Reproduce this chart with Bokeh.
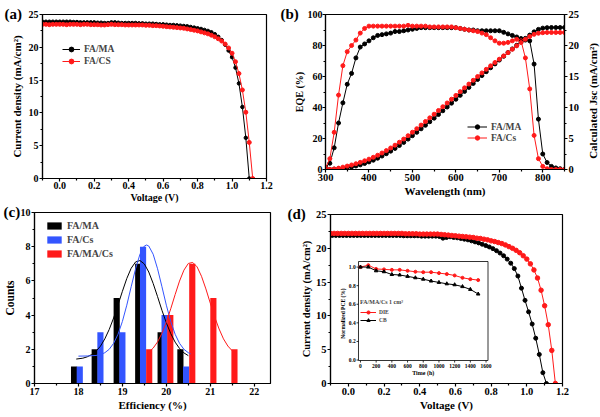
import math
from bokeh.plotting import figure
from bokeh.layouts import row, column
from bokeh.models import Range1d, LinearAxis, FixedTicker, Legend, LegendItem
from bokeh.core.properties import value
from bokeh.embed import file_html
from bokeh.resources import INLINE

SERIF = "Liberation Serif"
BLACK = "#000000"
RED = "#ff1a1a"
BLUE = "#3355ff"

# ---------------- (a) J-V : FA/MA vs FA/CS ----------------
va_ma = [-0.10, -0.08, -0.06, -0.04, -0.02, 0.00, 0.02, 0.04, 0.06, 0.08, 0.10, 0.12, 0.14, 0.16, 0.18,
         0.20, 0.22, 0.24, 0.26, 0.28, 0.30, 0.32, 0.34, 0.36, 0.38, 0.40, 0.42, 0.44, 0.46, 0.48,
         0.50, 0.52, 0.54, 0.56, 0.58, 0.60, 0.62, 0.64, 0.66, 0.68, 0.70, 0.72, 0.74, 0.76, 0.78,
         0.80, 0.82, 0.84, 0.86, 0.88, 0.90, 0.92, 0.94, 0.96, 0.98, 1.00, 1.02, 1.04, 1.06, 1.08, 1.10]
ja_ma = [23.9, 23.9, 23.9, 23.9, 23.9, 23.9, 23.9, 23.9, 23.9, 23.85, 23.85, 23.8, 23.8, 23.8, 23.8,
         23.8, 23.75, 23.75, 23.7, 23.7, 23.8, 23.8, 23.75, 23.7, 23.7, 23.7, 23.7, 23.7, 23.65, 23.65,
         23.6, 23.6, 23.6, 23.55, 23.5, 23.5, 23.45, 23.4, 23.4, 23.35, 23.3, 23.25, 23.2, 23.1, 23.0,
         22.9, 22.8, 22.65, 22.5, 22.3, 22.0, 21.6, 21.1, 20.4, 19.5, 18.5, 16.9, 14.5, 10.9, 6.2, 0.0]
va_cs = [-0.10, -0.08, -0.06, -0.04, -0.02, 0.00, 0.02, 0.04, 0.06, 0.08, 0.10, 0.12, 0.14, 0.16, 0.18,
         0.20, 0.22, 0.24, 0.26, 0.28, 0.30, 0.32, 0.34, 0.36, 0.38, 0.40, 0.42, 0.44, 0.46, 0.48,
         0.50, 0.52, 0.54, 0.56, 0.58, 0.60, 0.62, 0.64, 0.66, 0.68, 0.70, 0.72, 0.74, 0.76, 0.78,
         0.80, 0.82, 0.84, 0.86, 0.88, 0.90, 0.92, 0.94, 0.96, 0.98, 1.00, 1.02, 1.04, 1.06, 1.08, 1.10, 1.12]
ja_cs = [23.5, 23.5, 23.45, 23.5, 23.5, 23.5, 23.5, 23.45, 23.5, 23.5, 23.5, 23.45, 23.5, 23.5, 23.45,
         23.45, 23.45, 23.4, 23.4, 23.45, 23.5, 23.45, 23.45, 23.45, 23.4, 23.4, 23.4, 23.4, 23.4, 23.4,
         23.35, 23.35, 23.3, 23.3, 23.25, 23.2, 23.15, 23.1, 23.05, 23.0, 22.95, 22.9, 22.8, 22.7, 22.6,
         22.5, 22.35, 22.2, 22.05, 21.85, 21.6, 21.3, 20.95, 20.5, 19.9, 19.1, 17.8, 16.0, 13.5, 10.1, 5.5, 0.0]

# ---------------- (b) EQE and integrated Jsc ----------------
wl = [300, 310, 320, 330, 340, 350, 360, 370, 380, 390, 400, 410, 420, 430, 440, 450, 460, 470, 480, 490,
      500, 510, 520, 530, 540, 550, 560, 570, 580, 590, 600, 610, 620, 630, 640, 650, 660, 670, 680, 690,
      700, 710, 720, 730, 740, 750, 760, 770, 780, 790, 800, 810, 820, 830, 840, 850]
eqe_ma = [1.5, 4, 14, 30, 43, 55, 62, 72, 79, 81, 83, 85, 86.5, 87, 87.5, 88, 89, 89, 89.5, 90,
          90.5, 91, 91.5, 91.5, 91.5, 91.5, 91.5, 91.5, 91.5, 91.5, 91.5, 91, 90.5, 90, 90, 89.5, 89.5, 89.5, 89.5, 89.5,
          89.5, 88.5, 87.5, 86.5, 85.5, 84.5, 83.5, 83, 68, 32.5, 10, 4.5, 2, 1, 0.5, 0]
eqe_cs = [1, 7, 24, 48, 67, 76, 80, 83.5, 88, 91, 92.5, 92.5, 92.5, 92.5, 92.5, 92.5, 92.5, 92.5, 92.5, 93,
          92.5, 92.5, 92.5, 92.5, 92, 92, 92, 92, 92, 92, 91.5, 91, 90.5, 90, 89.5, 89, 88, 87, 85, 83,
          81.5, 81.5, 82, 83, 84, 83, 72, 52, 22, 7, 2, 0.5, 0, 0, 0, 0]
jsc_ma = [0.0, 0.02, 0.06, 0.12, 0.2, 0.3, 0.42, 0.57, 0.75, 0.97, 1.22, 1.5, 1.82, 2.17, 2.55, 2.96, 3.4, 3.87, 4.37, 4.9,
          5.45, 6.0, 6.56, 7.13, 7.7, 8.28, 8.87, 9.47, 10.08, 10.7, 11.33, 11.96, 12.6, 13.24, 13.88, 14.52, 15.15, 15.78, 16.41, 17.03,
          17.65, 18.26, 18.86, 19.45, 20.03, 20.6, 21.15, 21.68, 22.2, 22.6, 22.8, 22.88, 22.9, 22.9, 22.9, 22.9]
jsc_cs = [0.0, 0.03, 0.1, 0.22, 0.38, 0.55, 0.73, 0.93, 1.15, 1.4, 1.67, 1.97, 2.3, 2.66, 3.05, 3.47, 3.92, 4.4, 4.91, 5.45,
          6.01, 6.58, 7.16, 7.74, 8.33, 8.92, 9.52, 10.12, 10.73, 11.34, 11.95, 12.56, 13.17, 13.78, 14.39, 14.99, 15.58, 16.16, 16.72, 17.26,
          17.79, 18.32, 18.85, 19.39, 19.94, 20.48, 21.0, 21.45, 21.8, 21.98, 22.06, 22.1, 22.1, 22.1, 22.1, 22.1]

# ---------------- (c) efficiency histograms ----------------
eff_ma = [17.9, 18.37, 18.87, 19.36, 19.87, 20.32]
cnt_ma = [1, 2, 5, 7, 3, 2]
eff_cs = [18.03, 18.5, 19.0, 19.47, 19.96, 20.45]
cnt_cs = [1, 3, 3, 8, 4, 1]
eff_mc = [19.61, 20.09, 20.59, 21.07, 21.55]
cnt_mc = [2, 4, 7, 5, 2]
fit_ma_x = [17.95, 18.1, 18.2, 18.3, 18.4, 18.5, 18.6, 18.7, 18.8, 18.9, 19.0, 19.1, 19.2, 19.3, 19.4,
            19.5, 19.6, 19.7, 19.8, 19.9, 20.0, 20.1, 20.2, 20.3, 20.4, 20.5]
fit_ma_y = [1.43, 1.48, 1.56, 1.69, 1.89, 2.18, 2.61, 3.16, 3.83, 4.6, 5.39, 6.14, 6.74, 7.11, 7.19,
            6.99, 6.52, 5.85, 5.08, 4.28, 3.55, 2.92, 2.42, 2.05, 1.79, 1.63]
fit_cs_x = [18.0, 18.2, 18.4, 18.5, 18.6, 18.7, 18.8, 18.9, 19.0, 19.1, 19.2, 19.3, 19.4, 19.5, 19.55,
            19.6, 19.7, 19.8, 19.9, 20.0, 20.1, 20.2, 20.3, 20.4, 20.5, 20.55]
fit_cs_y = [1.6, 1.61, 1.64, 1.69, 1.8, 2.0, 2.35, 2.88, 3.63, 4.58, 5.66, 6.71, 7.56, 8.04, 8.1,
            8.04, 7.56, 6.71, 5.66, 4.58, 3.63, 2.88, 2.35, 2.0, 1.8, 1.74]
fit_mc_x = [19.6, 19.7, 19.8, 19.9, 20.0, 20.1, 20.2, 20.3, 20.4, 20.5, 20.6, 20.7, 20.8, 20.9, 21.0,
            21.1, 21.2, 21.3, 21.4, 21.5]
fit_mc_y = [1.82, 2.07, 2.43, 2.94, 3.59, 4.37, 5.2, 5.99, 6.63, 7.02, 7.08, 6.82, 6.27, 5.53, 4.7,
            3.89, 3.19, 2.61, 2.19, 1.91]

# ---------------- (d) J-V : DIE vs CB ----------------
vd_die = [-0.10, -0.08, -0.06, -0.04, -0.02, 0.00, 0.02, 0.04, 0.06, 0.08, 0.10, 0.12, 0.14, 0.16, 0.18,
          0.20, 0.22, 0.24, 0.26, 0.28, 0.30, 0.32, 0.34, 0.36, 0.38, 0.40, 0.42, 0.44, 0.46, 0.48,
          0.50, 0.52, 0.54, 0.56, 0.58, 0.60, 0.62, 0.64, 0.66, 0.68, 0.70, 0.72, 0.74, 0.76, 0.78,
          0.80, 0.82, 0.84, 0.86, 0.88, 0.90, 0.92, 0.94, 0.96, 0.98, 1.00, 1.02, 1.04, 1.06, 1.08, 1.10,
          1.12, 1.14, 1.16]
jd_die = [22.2, 22.2, 22.2, 22.2, 22.2, 22.2, 22.2, 22.2, 22.2, 22.2, 22.2, 22.2, 22.2, 22.2, 22.2,
          22.2, 22.2, 22.2, 22.2, 22.2, 22.2, 22.15, 22.15, 22.15, 22.15, 22.1, 22.1, 22.1, 22.1, 22.1,
          22.1, 22.05, 22.0, 21.95, 21.9, 21.85, 21.8, 21.75, 21.7, 21.65, 21.6, 21.5, 21.45, 21.35, 21.25,
          21.1, 21.0, 20.85, 20.7, 20.5, 20.25, 20.0, 19.7, 19.35, 18.9, 18.4, 17.7, 16.8, 15.6, 13.8, 11.5,
          8.7, 4.9, 0.0]
vd_cb = [-0.09, -0.07, -0.05, -0.03, -0.01, 0.01, 0.03, 0.05, 0.07, 0.09, 0.11, 0.13, 0.15, 0.17, 0.19,
         0.21, 0.23, 0.25, 0.27, 0.29, 0.31, 0.33, 0.35, 0.37, 0.39, 0.41, 0.43, 0.45, 0.47, 0.49,
         0.51, 0.53, 0.55, 0.57, 0.59, 0.61, 0.63, 0.65, 0.67, 0.69, 0.71, 0.73, 0.75, 0.77, 0.79,
         0.81, 0.83, 0.85, 0.87, 0.89, 0.91, 0.93, 0.95, 0.97, 0.99, 1.01, 1.03, 1.05, 1.07, 1.09, 1.11]
jd_cb = [21.9, 21.9, 21.9, 21.9, 21.9, 21.9, 21.9, 21.9, 21.9, 21.9, 21.9, 21.9, 21.9, 21.9, 21.9,
         21.9, 21.9, 21.9, 21.9, 21.9, 21.85, 21.85, 21.85, 21.85, 21.85, 21.8, 21.8, 21.8, 21.8, 21.8,
         21.75, 21.5, 21.6, 21.7, 21.6, 21.55, 21.45, 21.35, 21.25, 21.1, 20.95, 20.8, 20.6, 20.4, 20.2,
         19.95, 19.65, 19.3, 18.9, 18.4, 17.8, 17.0, 15.9, 14.1, 12.3, 10.6, 8.8, 6.7, 4.3, 1.6, 0.0]

# inset: stability
t_h = [0, 100, 200, 300, 400, 500, 600, 700, 800, 900, 1000, 1100, 1200, 1300, 1400, 1500]
pce_die = [1.0, 1.02, 0.98, 0.975, 0.97, 0.97, 0.96, 0.95, 0.945, 0.945, 0.935, 0.925, 0.91, 0.885, 0.87, 0.86]
pce_cb = [1.0, 1.0, 0.96, 0.95, 0.92, 0.915, 0.9, 0.885, 0.87, 0.85, 0.835, 0.82, 0.81, 0.79, 0.76, 0.71]

# ---------------- ticks ----------------
v_ticks = [0.0, 0.2, 0.4, 0.6, 0.8, 1.0, 1.2]
v_minor = [-0.1, 0.1, 0.3, 0.5, 0.7, 0.9, 1.1]
v_labels = ["0.0", "0.2", "0.4", "0.6", "0.8", "1.0", "1.2"]
j_ticks = [0, 5, 10, 15, 20, 25]
j_minor = [2.5, 7.5, 12.5, 17.5, 22.5]
j_labels = ["0", "5", "10", "15", "20", "25"]
wl_ticks = [300, 400, 500, 600, 700, 800]
wl_minor = [350, 450, 550, 650, 750, 850]
wl_labels = ["300", "400", "500", "600", "700", "800"]
eqe_ticks = [0, 20, 40, 60, 80, 100]
eqe_minor = [10, 30, 50, 70, 90]
eqe_labels = ["0", "20", "40", "60", "80", "100"]
eff_ticks = [17, 18, 19, 20, 21, 22]
eff_minor = [17.5, 18.5, 19.5, 20.5, 21.5]
eff_labels = ["17", "18", "19", "20", "21", "22"]
cnt_ticks = [0, 2, 4, 6, 8, 10]
cnt_minor = [1, 3, 5, 7, 9]
cnt_labels = ["0", "2", "4", "6", "8", "10"]
t_ticks = [0, 200, 400, 600, 800, 1000, 1200, 1400, 1600]
t_labels = ["0", "200", "400", "600", "800", "1000", "1200", "1400", "1600"]
pce_ticks = [0.0, 0.2, 0.4, 0.6, 0.8, 1.0]
pce_labels = ["0.0", "0.2", "0.4", "0.6", "0.8", "1.0"]


def no_align(p):
    if "frame_align" in p.properties():
        p.frame_align = False


def base_fig(w, h, xr, yr, bl, br, bt, bb, panel, panel_offset, **kw):
    p = figure(width=w, height=h, x_range=xr, y_range=yr, output_backend="svg",
               toolbar_location=None, min_border_left=bl, min_border_right=br,
               min_border_top=bt, min_border_bottom=bb, **kw)
    no_align(p)
    p.xgrid.visible = False
    p.ygrid.visible = False
    p.outline_line_color = "black"
    p.outline_line_width = 1.2
    # panel letter drawn as the plot title, pulled to the left of the frame
    t = p.title
    t.text = panel
    t.align = "left"
    t.vertical_align = "bottom"
    t.offset = panel_offset
    t.text_font = SERIF
    t.text_font_style = "bold"
    t.text_font_size = "15px"
    t.text_color = "black"
    try:
        t.standoff = -15
    except Exception:
        t.standoff = 0
    return p


def style_axis(ax, ticks, minor, labels, tick_size, label=None, label_size="11px",
               standoff=0, label_standoff=0):
    ax.ticker = FixedTicker(ticks=ticks, minor_ticks=minor)
    ax.major_label_overrides = {t: l for t, l in zip(ticks, labels)}
    ax.axis_line_width = 1.2
    ax.major_tick_line_width = 1.2
    ax.minor_tick_line_width = 1.2
    ax.major_tick_out = 3
    ax.major_tick_in = 0
    ax.minor_tick_out = 2
    ax.minor_tick_in = 0
    ax.major_label_text_font = SERIF
    ax.major_label_text_font_style = "bold"
    ax.major_label_text_font_size = tick_size
    ax.major_label_text_color = "black"
    ax.major_label_standoff = standoff
    if label is not None:
        ax.axis_label = label
        ax.axis_label_text_font = SERIF
        ax.axis_label_text_font_style = "bold"
        ax.axis_label_text_font_size = label_size
        ax.axis_label_text_color = "black"
        ax.axis_label_standoff = label_standoff


def make_legend(items, loc, size, gw, gh, lh, spacing=0, padding=2, standoff=4):
    lg = Legend(items=items, location=loc)
    lg.label_text_font = SERIF
    lg.label_text_font_style = "bold"
    lg.label_text_font_size = size
    lg.glyph_width = gw
    lg.glyph_height = gh
    lg.label_height = lh
    lg.spacing = spacing
    lg.padding = padding
    lg.margin = 0
    lg.label_standoff = standoff
    lg.background_fill_alpha = 0
    lg.border_line_alpha = 0
    return lg


# ================= panel (a) =================
pa = base_fig(278, 205, (-0.1, 1.2), (0, 25), 42, 12, 14, 27, "(a)", -38)
style_axis(pa.xaxis[0], v_ticks, v_minor, v_labels, "10px", "Voltage (V)", "10px")
style_axis(pa.yaxis[0], j_ticks, j_minor, j_labels, "10px", "Current density (mA/cm²)", "11px",
           standoff=1, label_standoff=3)
la1 = pa.line(va_ma, ja_ma, line_color=BLACK, line_width=1)
sa1 = pa.scatter(va_ma, ja_ma, marker="circle", size=3.5, fill_color=BLACK, line_color=BLACK)
la2 = pa.line(va_cs, ja_cs, line_color=RED, line_width=1)
sa2 = pa.scatter(va_cs, ja_cs, marker="circle", size=4, fill_color=RED, line_color=RED)
pa.add_layout(make_legend([LegendItem(label="FA/MA", renderers=[la1, sa1]),
                           LegendItem(label="FA/CS", renderers=[la2, sa2])],
                          (18, 109), "9.5px", 18, 12, 12))

# ================= panel (b) =================
pb = base_fig(304, 205, (300, 850), (0, 100), 47, 15, 14, 36, "(b)", -45)
pb.extra_y_ranges = {"jsc": Range1d(0, 25)}
ax_r = LinearAxis(y_range_name="jsc")
pb.add_layout(ax_r, "right")
style_axis(pb.xaxis[0], wl_ticks, wl_minor, wl_labels, "10.5px", "Wavelength (nm)", "11px",
           standoff=1, label_standoff=1)
style_axis(pb.yaxis[0], eqe_ticks, eqe_minor, eqe_labels, "10px", "EQE (%)", "10px")
style_axis(ax_r, j_ticks, j_minor, j_labels, "10.5px", standoff=1)
lb1 = pb.line(wl, eqe_ma, line_color=BLACK, line_width=1)
sb1 = pb.scatter(wl, eqe_ma, marker="circle", size=4, fill_color=BLACK, line_color=BLACK)
lb2 = pb.line(wl, eqe_cs, line_color=RED, line_width=1)
sb2 = pb.scatter(wl, eqe_cs, marker="circle", size=4, fill_color=RED, line_color=RED)
pb.line(wl, jsc_ma, line_color=BLACK, line_width=1, y_range_name="jsc")
pb.scatter(wl, jsc_ma, marker="circle", size=4, fill_color=BLACK, line_color=BLACK, y_range_name="jsc")
pb.line(wl, jsc_cs, line_color=RED, line_width=1, y_range_name="jsc")
pb.scatter(wl, jsc_cs, marker="circle", size=4, fill_color=RED, line_color=RED, y_range_name="jsc")
pb.add_layout(make_legend([LegendItem(label="FA/MA", renderers=[lb1, sb1]),
                           LegendItem(label="FA/Cs", renderers=[lb2, sb2])],
                          (140, 24), "9.5px", 20, 11, 11))

# narrow strip carrying the right-hand axis title of panel (b), reading upwards
pr = figure(width=18, height=205, x_range=(0, 1), y_range=(0, 1), output_backend="svg",
            toolbar_location=None, min_border_left=16, min_border_right=0,
            min_border_top=40, min_border_bottom=44)
no_align(pr)
pr.xaxis.visible = False
pr.xgrid.visible = False
pr.ygrid.visible = False
pr.outline_line_color = None
pr.background_fill_color = None
ya = pr.yaxis[0]
ya.ticker = FixedTicker(ticks=[])
ya.axis_line_color = None
ya.major_tick_out = 0
ya.major_tick_in = 0
ya.minor_tick_out = 0
ya.minor_tick_in = 0
ya.major_label_standoff = 0
ya.axis_label = "Calculated Jsc (mA/cm²)"
ya.axis_label_text_font = SERIF
ya.axis_label_text_font_style = "bold"
ya.axis_label_text_font_size = "11px"
ya.axis_label_text_color = "black"
ya.axis_label_standoff = 0

# ================= panel (c) =================
pc = base_fig(285, 211, (17, 22.37), (0, 10), 34, 15, 7, 33, "(c)", -31)
style_axis(pc.xaxis[0], eff_ticks, eff_minor, eff_labels, "10px", "Efficiency (%)", "11px",
           standoff=1, label_standoff=1)
style_axis(pc.yaxis[0], cnt_ticks, cnt_minor, cnt_labels, "10px", "Counts", "11.5px",
           standoff=1, label_standoff=2)
bc1 = pc.vbar(x=eff_ma, top=cnt_ma, width=0.14, fill_color=BLACK, line_color=None)
bc2 = pc.vbar(x=eff_cs, top=cnt_cs, width=0.14, fill_color=BLUE, line_color=None)
bc3 = pc.vbar(x=eff_mc, top=cnt_mc, width=0.14, fill_color=RED, line_color=None)
pc.line(fit_ma_x, fit_ma_y, line_color=BLACK, line_width=1)
pc.line(fit_cs_x, fit_cs_y, line_color=BLUE, line_width=1)
pc.line(fit_mc_x, fit_mc_y, line_color=RED, line_width=1)
pc.add_layout(make_legend([LegendItem(label="FA/MA", renderers=[bc1]),
                           LegendItem(label="FA/Cs", renderers=[bc2]),
                           LegendItem(label="FA/MA/Cs", renderers=[bc3])],
                          (9, 121), "10px", 18, 9, 13, spacing=1))

# ================= panel (d) =================
pd = base_fig(315, 211, (-0.1, 1.2), (0, 25), 45, 38, 9, 33, "(d)", -43)
style_axis(pd.xaxis[0], v_ticks, v_minor, v_labels, "10.5px", "Voltage (V)", "11px",
           standoff=1, label_standoff=1)
style_axis(pd.yaxis[0], j_ticks, j_minor, j_labels, "10.5px", "Current density (mA/cm²)", "10.5px",
           standoff=1, label_standoff=1)

# inset drawn in its own coordinate system inside panel (d)
pd.extra_x_ranges = {"tin": Range1d(-381.7, 2574.2)}
pd.extra_y_ranges = {"pin": Range1d(-0.2524, 1.5656)}
IN = dict(x_range_name="tin", y_range_name="pin")
pd.quad(left=-25, right=1625, bottom=-0.005, top=1.06, fill_color="white",
        line_color="black", line_width=0.8, **IN)
pd.segment(x0=t_ticks, y0=-0.005, x1=t_ticks, y1=-0.027, line_color="black", line_width=0.8, **IN)
pd.segment(x0=-25, y0=pce_ticks, x1=-50, y1=pce_ticks, line_color="black", line_width=0.8, **IN)
pd.text(x=t_ticks, y=-0.06, text=t_labels, text_font=value(SERIF), text_font_style="bold",
        text_font_size="5.5px", text_align="center", text_baseline="middle", **IN)
pd.text(x=-60, y=pce_ticks, text=pce_labels, text_font=value(SERIF), text_font_style="bold",
        text_font_size="5.5px", text_align="right", text_baseline="middle", **IN)
pd.text(x=[800], y=[-0.135], text=["Time (h)"], text_font=value(SERIF), text_font_style="bold",
        text_font_size="6px", text_align="center", text_baseline="middle", **IN)
pd.text(x=[-225], y=[0.5], text=["Normalized PCE (%)"], text_font=value(SERIF),
        text_font_style="bold", text_font_size="5.5px", text_align="center",
        text_baseline="middle", angle=math.pi / 2, **IN)
li1 = pd.line(t_h, pce_die, line_color=RED, line_width=1, **IN)
si1 = pd.scatter(t_h, pce_die, marker="circle", size=3, fill_color=RED, line_color=RED, **IN)
li2 = pd.line(t_h, pce_cb, line_color=BLACK, line_width=1, **IN)
si2 = pd.scatter(t_h, pce_cb, marker="triangle", size=3.5, fill_color=BLACK, line_color=BLACK, **IN)
lg_in = make_legend([LegendItem(label="DIE", renderers=[li1, si1]),
                     LegendItem(label="CB", renderers=[li2, si2])],
                    (29, 58), "5.5px", 16, 8, 8, spacing=0, padding=1, standoff=3)
lg_in.title = "FA/MA/Cs 1 cm²"
lg_in.title_text_font = SERIF
lg_in.title_text_font_style = "bold"
lg_in.title_text_font_size = "6px"
lg_in.title_standoff = 3
pd.add_layout(lg_in)

# main J-V curves
pd.line(vd_cb, jd_cb, line_color=BLACK, line_width=1)
pd.scatter(vd_cb, jd_cb, marker="circle", size=4, fill_color=BLACK, line_color=BLACK)
pd.line(vd_die, jd_die, line_color=RED, line_width=1)
pd.scatter(vd_die, jd_die, marker="circle", size=4.5, fill_color=RED, line_color=RED)

page = column(row(pa, pb, pr, spacing=0), row(pc, pd, spacing=0), spacing=0)

open("out.html", "w").write(file_html(page, INLINE))
